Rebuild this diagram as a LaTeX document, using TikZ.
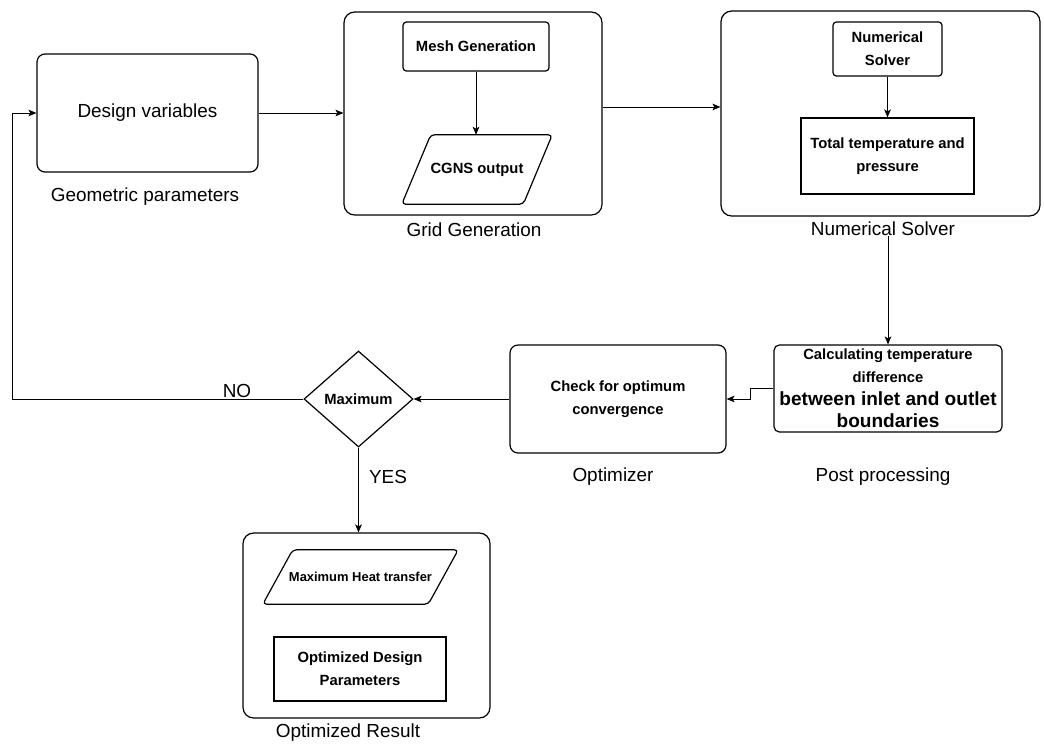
\documentclass[tikz,border=0pt]{standalone}
\usepackage{fontspec}
\setmainfont{Liberation Sans}
\usetikzlibrary{shapes.geometric,arrows.meta}
\newcommand{\smf}{\fontsize{11.1}{17}\selectfont}
\newcommand{\lgf}{\fontsize{14.3}{17}\selectfont}
\begin{document}
\begin{tikzpicture}[x=0.75pt,y=-0.75pt,
  box/.style={draw,line width=0.9pt,rounded corners=6pt,inner sep=0pt},
  bigbox/.style={draw,line width=0.9pt,rounded corners=8pt,inner sep=0pt},
  smallbox/.style={draw,line width=0.9pt,rounded corners=2.5pt,inner sep=0pt,font=\smf\bfseries,align=center},
  sqbox/.style={draw,line width=0.9pt,inner sep=0pt,font=\smf\bfseries,align=center},
  bt/.style={font=\smf\bfseries,align=center},
  paratext/.style={inner sep=0pt,font=\smf\bfseries},
  paraline/.style={draw,line width=0.9pt,rounded corners=3pt},
  lab/.style={font=\fontsize{14.2}{17}\selectfont,inner sep=0pt},
  arr/.style={-{Stealth[length=6pt,width=5pt,inset=1.5pt]},line width=0.6pt}]
\useasboundingbox (0,0) rectangle (1044,747);
% top row
\node[box,minimum width=165.75pt,minimum height=88.5pt,font=\fontsize{14.2}{17}\selectfont] (dv) at (147.5,113) {Design variables};
\node[lab] (dvl) at (145,197) {Geometric parameters};
\node[bigbox,minimum width=193.5pt,minimum height=152.25pt] (grid) at (473,113.5) {};
\node[smallbox,minimum width=109.5pt,minimum height=36.75pt] (mesh) at (476,46.5) {Mesh Generation};
\node[paratext,minimum width=112.5pt,minimum height=51.75pt] (cgns) at (477,169.5) {CGNS output};
\draw[paraline] (cgns.south west) -- ([xshift=-21.75pt]cgns.south east) -- (cgns.north east)
  -- ([xshift=21.75pt]cgns.north west) -- cycle;
\node[lab] (gridl) at (474,230) {Grid Generation};
\node[bigbox,minimum width=239.25pt,minimum height=153.75pt] (sol) at (880.5,113.5) {};
\node[smallbox,minimum width=81.75pt,minimum height=40.5pt] (ns) at (887.5,49) {Numerical\\Solver};
\node[sqbox,minimum width=129.75pt,minimum height=57pt] (ttp) at (887.5,156) {Total temperature and\\pressure};
\node[lab] (soll) at (883,229) {Numerical Solver};
% middle row
\node[box,rounded corners=4pt,minimum width=171pt,minimum height=65.25pt,align=center,font=\smf\bfseries] (pp) at (888,388.5)
  {Calculating temperature\\difference\\\lgf between inlet and outlet\\\lgf boundaries};
\node[lab] (ppl) at (883,477) {Post processing};
\node[box,bt,minimum width=162pt,minimum height=81pt] (opt) at (618,399) {Check for optimum\\convergence};
\node[lab] (optl) at (613,477) {Optimizer};
\node[draw,diamond,line width=0.9pt,bt,aspect=1.135,inner sep=0pt,minimum width=81.75pt,minimum height=72pt] (dia) at (358.5,399) {Maximum};
\node[lab] (no) at (237,391) {NO};
\node[lab] (yes) at (388,477) {YES};
% bottom
\node[bigbox,minimum width=185.25pt,minimum height=138.75pt] (res) at (366.5,625.5) {};
\node[paratext,minimum width=146.25pt,minimum height=40.5pt,font=\fontsize{9.7}{12}\selectfont\bfseries] (mht) at (360.5,577) {Maximum Heat transfer};
\draw[paraline] (mht.south west) -- ([xshift=-22.5pt]mht.south east) -- (mht.north east)
  -- ([xshift=22.5pt]mht.north west) -- cycle;
\node[sqbox,minimum width=129pt,minimum height=48pt] (odp) at (360,669) {Optimized Design\\Parameters};
\node[lab] (resl) at (348,733) {Optimized Result};
\coordinate (fbx) at (12,0);
% connectors
\draw[arr] (dv.east) -- (dv.east -| grid.west);
\draw[arr] ([yshift=4.9pt]grid.east) -- ([yshift=4.9pt]grid.east -| sol.west);
\draw[arr] (mesh.south) -- (mesh.south |- cgns.north);
\draw[arr] (ns.south) -- (ttp.north);
\draw[arr] (pp.north |- soll.south) -- (pp.north);
\draw[arr] (pp.west) -- ++(-17.25pt,0) |- (opt.east);
\draw[arr] (opt.west) -- (dia.east);
\draw[arr] (dia.west) -- (dia.west -| fbx) |- (dv.west);
\draw[arr] (dia.south) -- (dia.south |- res.north);
\end{tikzpicture}
\end{document}
